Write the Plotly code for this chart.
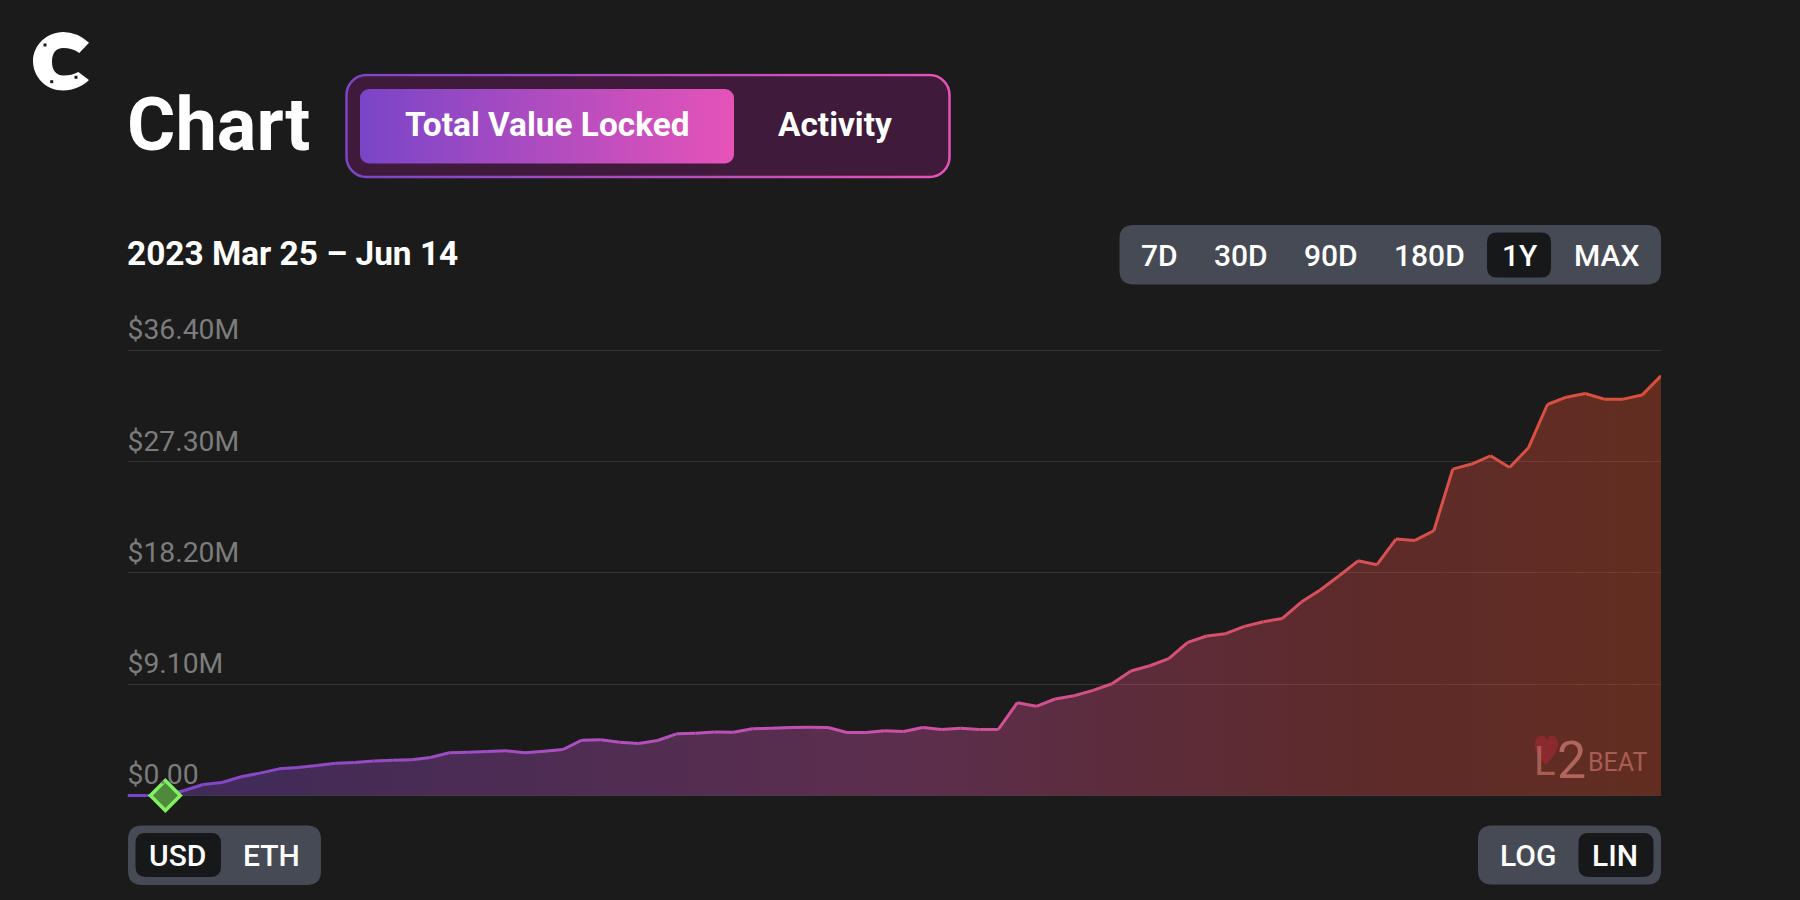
import base64
import pandas as pd
import plotly.graph_objects as go

# TVL in $M, one value per day
tvl = [0, 0, 0, 0.41, 0.90, 1.06, 1.53, 1.83, 2.18, 2.29, 2.45, 2.64, 2.70, 2.83, 2.89, 2.92,
       3.11, 3.49, 3.54, 3.60, 3.65, 3.49, 3.62, 3.76, 4.52, 4.55, 4.36, 4.25, 4.50, 5.04, 5.10,
       5.20, 5.18, 5.45, 5.50, 5.56, 5.59, 5.56, 5.15, 5.15, 5.29, 5.23, 5.56, 5.40, 5.50, 5.40,
       5.40, 7.59, 7.29, 7.89, 8.16, 8.60, 9.14, 10.18, 10.61, 11.19, 12.52, 13.04, 13.23, 13.83,
       14.21, 14.48, 15.82, 16.80, 17.97, 19.19, 18.87, 20.97, 20.86, 21.65, 26.69, 27.10, 27.78,
       26.82, 28.43, 31.97, 32.57, 32.87, 32.41, 32.41, 32.74, 34.32]
dates = pd.date_range("2023-03-25", "2023-06-14")
y_ticks = [0, 9.1, 18.2, 27.3, 36.4]
y_labels = ["$0.00", "$9.10M", "$18.20M", "$27.30M", "$36.40M"]
range_labels = ["7D", "30D", "90D", "180D", "1Y", "MAX"]
unit_labels = ["USD", "ETH"]
scale_labels = ["LOG", "LIN"]
marker_day = 2

W, H = 1800, 900
BG = "#1b1b1b"
LINE_STOPS = [(0, "#7a45c8"), (0.3, "#ad50c0"), (0.5, "#cc50a8"), (0.7, "#d85070"), (0.85, "#d8504a"), (1, "#da503a")]
PX_PER_M = 12.23
Y_BOTTOM, Y_TOP = -1.0, 40.0


def line_color(t):
    for (t0, c0), (t1, c1) in zip(LINE_STOPS, LINE_STOPS[1:]):
        if t <= t1:
            k = (t - t0) / (t1 - t0)
            rgb = [round(int(c0[i:i + 2], 16) * (1 - k) + int(c1[i:i + 2], 16) * k) for i in (1, 3, 5)]
            return "rgb(%d,%d,%d)" % tuple(rgb)
    return LINE_STOPS[-1][1]


def pth(*segs):
    # segments in screen pixels, turned into paper fractions
    out = ""
    for cmd, pts in segs:
        out += cmd
        for j in range(0, len(pts), 2):
            out += " %.5f,%.5f " % (pts[j] / W, 1 - pts[j + 1] / H)
    return out + "Z"


def rrect(x0, y0, x1, y1, r, fill):
    p = pth(("M", [x0 + r, y0]), ("L", [x1 - r, y0]), ("Q", [x1, y0, x1, y0 + r]), ("L", [x1, y1 - r]),
            ("Q", [x1, y1, x1 - r, y1]), ("L", [x0 + r, y1]), ("Q", [x0, y1, x0, y1 - r]), ("L", [x0, y0 + r]),
            ("Q", [x0, y0, x0 + r, y0]))
    return dict(type="path", path=p, xref="paper", yref="paper", fillcolor=fill, line_width=0, layer="below")


def label(text, x, y, size, anchor="center", weight=500, color="#ffffff", family="Roboto"):
    return dict(text=text, x=x / W, y=1 - y / H, xref="paper", yref="paper", showarrow=False, xanchor=anchor,
                yanchor="middle", font=dict(family=family, size=size, color=color, weight=weight))


tab_svg = """<svg xmlns="http://www.w3.org/2000/svg" width="608" height="108" viewBox="0 0 608 108">
<defs>
<linearGradient id="a" x1="0" x2="1" y1="0" y2="0"><stop offset="0" stop-color="#7a45c8"/><stop offset="1" stop-color="#e653b8"/></linearGradient>
</defs>
<rect x="1.5" y="1.5" width="603" height="102" rx="20" fill="#3f1a3a" stroke="url(#a)" stroke-width="2.5"/>
<rect x="15" y="15.5" width="374" height="74.5" rx="9" fill="url(#a)"/>
</svg>"""
tab_src = "data:image/svg+xml;base64," + base64.b64encode(tab_svg.encode()).decode()

fig = go.Figure()

fig.add_trace(go.Scatter(
    x=dates, y=tvl, mode="none", fill="tozeroy", hoverinfo="skip", cliponaxis=False,
    fillgradient=dict(type="horizontal", colorscale=[
        [0, "rgba(122,69,200,0.36)"], [0.5, "rgba(207,80,168,0.36)"], [0.8, "rgba(210,70,70,0.36)"], [1, "rgba(215,75,40,0.38)"]]),
))
# plotly has no gradient stroke, so one short trace per day
n = len(tvl)
for i in range(n - 1):
    fig.add_trace(go.Scatter(
        x=dates[i:i + 2], y=tvl[i:i + 2], mode="lines", line=dict(color=line_color((i + 0.5) / (n - 1)), width=3),
        hoverinfo="skip", cliponaxis=False,
    ))
fig.add_trace(go.Scatter(
    x=[dates[marker_day]], y=[tvl[marker_day]], mode="markers", cliponaxis=False, hoverinfo="skip",
    marker=dict(symbol="diamond", size=23, color="#4f8a3c", line=dict(color="#82f060", width=3.5)),
))

shapes = [
    rrect(1119.5, 225, 1661, 284.5, 14, "#454a54"),
    rrect(1487, 232.5, 1551, 277.5, 10, "#17181a"),
    rrect(128, 825.5, 321, 885, 14, "#454a54"),
    rrect(135.5, 833, 221, 877, 10, "#17181a"),
    rrect(1478, 825.5, 1661, 884.5, 14, "#454a54"),
    rrect(1578.5, 833, 1653.5, 877, 10, "#17181a"),
]
# C logo
shapes.append(dict(type="path", xref="paper", yref="paper", fillcolor="#ffffff", line_width=0, path=pth(
    ("M", [89, 42.7]), ("Q", [77, 32, 63.3, 32]), ("C", [46, 32, 33, 46, 33, 61]), ("C", [33, 77, 46, 90.5, 63.3, 90.5]),
    ("C", [73, 90.5, 83, 86, 89, 80]), ("L", [78.3, 72]), ("C", [74, 74.5, 69, 75.5, 63.3, 75.5]),
    ("C", [56, 75.5, 52, 70, 52, 61.7]), ("C", [52, 53, 56, 48, 63.3, 48]), ("C", [69, 48, 75, 49.5, 79.3, 53]))))
for sx, sy in [(45, 45), (51.7, 81.7), (76, 77.3)]:
    shapes.append(dict(type="rect", xref="paper", yref="paper", x0=(sx - 1.5) / W, x1=(sx + 1.5) / W,
                       y0=1 - (sy - 1.5) / H, y1=1 - (sy + 1.5) / H, fillcolor=BG, line_width=0))
# L2BEAT heart
shapes.append(dict(type="path", xref="paper", yref="paper", fillcolor="#8a2a2e", line_width=0, path=pth(
    ("M", [1546, 765]), ("C", [1538, 757, 1535, 751, 1535, 745]), ("C", [1535, 733, 1546, 733, 1547, 741]),
    ("C", [1548, 733, 1558, 733, 1558, 745]), ("C", [1558, 751, 1553, 757, 1546, 765]))))

annotations = [
    label("Chart", 124.7, 124, 74, "left", 700),
    label("Total Value Locked", 547, 124, 33.4, weight=700),
    label("Activity", 834.5, 124, 33.4, weight=700),
    label("2023 Mar 25 – Jun 14", 124.7, 253.5, 33.4, "left", 700),
    label("L", 1545, 761, 40, color="#a85d54", weight=400),
    label("2", 1571.5, 760, 52, color="#b0665c", weight=400),
    label("BEAT", 1586, 762, 25, "left", color="#a85d54", weight=400),
]
for text, x in zip(range_labels, [1159.5, 1241, 1330.5, 1429, 1520, 1606]):
    annotations.append(label(text, x, 255, 30))
for text, x in zip(unit_labels, [177.5, 271]):
    annotations.append(label(text, x, 855, 30))
for text, x in zip(scale_labels, [1527.5, 1615]):
    annotations.append(label(text, x, 855, 30))

y_px_bottom = 795.5 - Y_BOTTOM * PX_PER_M
y_px_top = 795.5 - Y_TOP * PX_PER_M

fig.update_layout(
    width=W, height=H, margin=dict(l=0, r=0, t=0, b=0), autosize=False, showlegend=False,
    paper_bgcolor=BG, plot_bgcolor=BG, shapes=shapes, annotations=annotations,
    images=[dict(source=tab_src, xref="paper", yref="paper", x=345 / W, y=1 - 73.5 / H, sizex=608 / W, sizey=108 / H,
                 xanchor="left", yanchor="top", sizing="stretch", layer="below")],
    xaxis=dict(domain=[127.5 / W, 1661 / W], range=[dates[0], dates[-1]], visible=False),
    yaxis=dict(domain=[1 - y_px_bottom / H, 1 - y_px_top / H], range=[Y_BOTTOM, Y_TOP], tickvals=y_ticks, ticktext=y_labels,
               ticklabelposition="inside", ticklabelshift=-21, ticklabelstandoff=-3, ticks="", showline=False,
               gridcolor="#343434", gridwidth=1.3, zeroline=False,
               tickfont=dict(family="Roboto", size=28.3, color="#7c7c7c")),
)

fig.write_html("out.html", config={"displayModeBar": False}, post_script="document.body.style.margin='0'")
